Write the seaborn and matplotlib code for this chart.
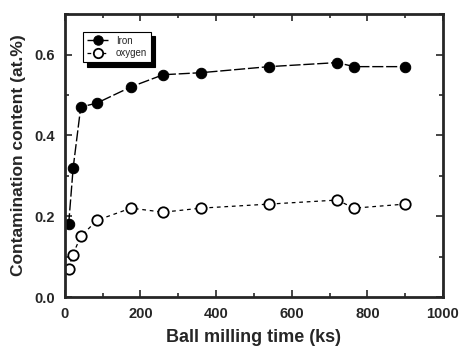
import numpy as np
import pandas as pd
import matplotlib.pyplot as plt
import seaborn as sns
from matplotlib.ticker import MultipleLocator

sns.set_style("ticks")
plt.rcParams['font.family'] = ['Liberation Sans', 'DejaVu Sans']

time_iron = [10, 22, 42, 85, 175, 260, 360, 540, 720, 765, 900]
iron = [0.18, 0.32, 0.47, 0.48, 0.52, 0.55, 0.555, 0.57, 0.58, 0.57, 0.57]
time_oxygen = [10, 21, 42, 85, 175, 260, 360, 540, 720, 765, 900]
oxygen = [0.07, 0.105, 0.15, 0.19, 0.22, 0.21, 0.22, 0.23, 0.24, 0.22, 0.23]

fig = plt.figure(figsize=(4.6, 3.52), dpi=100)
ax = fig.add_axes([0.141, 0.156, 0.822, 0.804])

sns.lineplot(x=time_iron, y=iron, ax=ax, color='black', marker='o', markersize=7.5,
             markerfacecolor='black', markeredgecolor='black', linewidth=1.0,
             dashes=False, linestyle=(0, (8, 2)), label='Iron')
sns.lineplot(x=time_oxygen, y=oxygen, ax=ax, color='black', marker='o', markersize=7.5,
             markerfacecolor='white', markeredgecolor='black', markeredgewidth=1.3,
             linewidth=0.9, linestyle=(0, (3, 3)), label='oxygen')

ax.set_xlim(0, 1000)
ax.set_ylim(0, 0.7)
ax.xaxis.set_major_locator(MultipleLocator(200))
ax.xaxis.set_minor_locator(MultipleLocator(100))
ax.yaxis.set_major_locator(MultipleLocator(0.2))
ax.yaxis.set_minor_locator(MultipleLocator(0.1))
ax.yaxis.set_major_formatter(plt.FuncFormatter(lambda v, p: f"{v:.1f}"))
ax.tick_params(which='both', direction='in', top=True, right=True, width=1.2)
ax.tick_params(which='major', length=5, labelsize=10.5)
ax.tick_params(axis='x', which='major', pad=7)
ax.tick_params(axis='y', which='major', pad=7)
ax.tick_params(which='minor', length=3)
for lab in ax.get_xticklabels() + ax.get_yticklabels():
    lab.set_fontweight('bold')
for sp in ax.spines.values():
    sp.set_linewidth(2)

ax.set_xlabel('Ball milling time (ks)', fontsize=13, fontweight='bold', labelpad=6)
ax.set_ylabel('Contamination content (at.%)', fontsize=12.5, fontweight='bold', labelpad=6)

leg = ax.legend(loc='upper left', bbox_to_anchor=(0.035, 0.955), fontsize=7,
                frameon=True, fancybox=False, shadow={'color': 'black', 'alpha': 1, 'ox': 3, 'oy': -3},
                handlelength=2.2, borderpad=0.4, labelspacing=0.3, markerscale=0.9)
leg.get_frame().set_edgecolor('black')
leg.get_frame().set_linewidth(0.8)

fig.savefig('out.png', dpi=100)
